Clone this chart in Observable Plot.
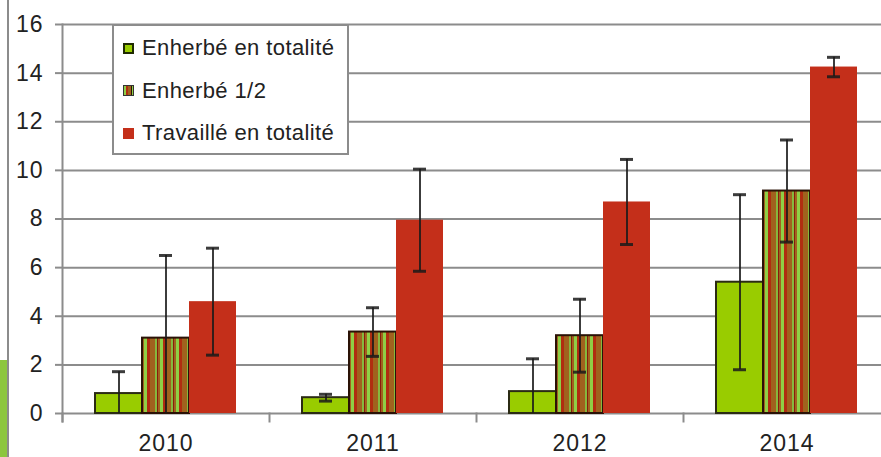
<!DOCTYPE html>
<html>
<head>
<meta charset="utf-8">
<script src="https://cdn.jsdelivr.net/npm/d3@7"></script>
<script src="https://cdn.jsdelivr.net/npm/@observablehq/plot@0.6"></script>
<style>
  body { margin: 0; background: #fff; }
  #wrap { position: relative; width: 881px; height: 457px; overflow: hidden; font-family: "Liberation Sans", Arial, sans-serif; }
  #chart svg { max-width: none !important; }
  #chart svg text { letter-spacing: 1px; }
  #deco-line { position: absolute; left: 7px; top: 0; width: 2px; height: 457px; background: #8c8c8c; }
  #deco-green { position: absolute; left: 0; top: 360px; width: 7px; height: 97px; background: #8dc63f; }
  #legend { position: absolute; left: 112px; top: 24px; width: 233px; height: 127px; border: 2px solid #8c8c8c; background: #fff; }
  .item { position: absolute; left: 9px; height: 26px; display: flex; align-items: center; font-size: 22px; letter-spacing: 0.4px; color: #222; white-space: nowrap; }
  .sw { width: 11px; height: 11px; margin-right: 8px; box-sizing: border-box; }
</style>
</head>
<body>
<div id="wrap">
  <div id="deco-line"></div>
  <div id="deco-green"></div>
  <div id="chart"></div>
  <div id="legend"></div>
</div>
<script>
const years = ["2010", "2011", "2012", "2014"];
const series = ["Enherbé en totalité", "Enherbé 1/2", "Travaillé en totalité"];
const enherbeTotal = [0.82, 0.65, 0.9, 5.4];
const enherbeDemi = [3.1, 3.35, 3.2, 9.15];
const travailleTotal = [4.6, 7.95, 8.7, 14.25];
const errEnherbeTotal = [0.9, 0.14, 1.35, 3.6];
const errEnherbeDemi = [3.4, 1.0, 1.5, 2.1];
const errTravailleTotal = [2.2, 2.1, 1.75, 0.4];
const yTicks = [0, 2, 4, 6, 8, 10, 12, 14, 16];

const fills = ["#99cc00", "url(#stripes)", "#c42f1a"];
const outlines = ["#2b2b14", "#2a1206", "none"];
const legendSwatches = [
  "background:#99cc00;border:2px solid #1f2a00;",
  "background:repeating-linear-gradient(90deg,#8fcf45 0 2px,#b02d10 2px 4px,#a0621e 4px 7px,#2a1206 7px 8px);border:1px solid #333;",
  "background:#c42f1a;"
];

const values = [enherbeTotal, enherbeDemi, travailleTotal];
const errors = [errEnherbeTotal, errEnherbeDemi, errTravailleTotal];
const rows = [];
years.forEach((yr, i) => {
  series.forEach((s, j) => {
    const v = values[j][i], e = errors[j][i];
    rows.push({year: yr, series: s, value: v, lo: v - e, hi: v + e});
  });
});

const barMarks = series.map((s, j) =>
  Plot.barY(rows.filter(r => r.series === s), {
    fx: "year", x: "series", y: "value",
    fill: fills[j], stroke: outlines[j], strokeWidth: 2, insetLeft: 0, insetRight: 0
  })
);

const chart = Plot.plot({
  width: 890,
  height: 457,
  marginLeft: 62,
  marginRight: 0,
  marginTop: 24,
  marginBottom: 44,
  fx: {domain: years, padding: 0, label: null, axis: null},
  x: {domain: series, paddingInner: 0, paddingOuter: 0.7, axis: null},
  y: {domain: [0, 16], label: null},
  style: {fontFamily: "'Liberation Sans', Arial, sans-serif", fontSize: "23px", color: "#222", background: "transparent", overflow: "visible", maxWidth: "none"},
  marks: [
    Plot.gridY(yTicks, {stroke: "#8c8c8c", strokeOpacity: 1, strokeWidth: 2}),
    Plot.axisY(yTicks, {tickSize: 7, tickPadding: 12, stroke: "#8c8c8c", strokeWidth: 2, fontSize: 23, fill: "#222", label: null}),
    Plot.axisFx({anchor: "bottom", tickSize: 0, tickPadding: 21, fontSize: 23, fill: "#222", label: null}),
    Plot.frame({anchor: "left", stroke: "#8c8c8c", strokeWidth: 2, insetTop: 389, insetBottom: -8}),
    Plot.frame({anchor: "left", facetAnchor: "left", stroke: "#8c8c8c", strokeWidth: 2, insetBottom: -8}),
    ...barMarks,
    Plot.ruleX(rows, {fx: "year", x: "series", y1: "lo", y2: "hi", stroke: "#1a1a1a", strokeOpacity: 0.85, strokeWidth: 2, clip: true}),
    Plot.tickY(rows, {fx: "year", x: "series", y: "hi", stroke: "#1a1a1a", strokeOpacity: 0.85, strokeWidth: 3, insetLeft: 17, insetRight: 17, clip: true}),
    Plot.tickY(rows, {fx: "year", x: "series", y: "lo", stroke: "#1a1a1a", strokeOpacity: 0.85, strokeWidth: 3, insetLeft: 17, insetRight: 17, clip: true})
  ]
});

d3.select(chart).insert("defs", ":first-child").html(`
  <pattern id="stripes" patternUnits="userSpaceOnUse" width="16" height="10">
    <rect x="0" y="0" width="16" height="10" fill="#a0621e"/>
    <rect x="0" y="0" width="3" height="10" fill="#8fcf45"/>
    <rect x="3" y="0" width="3" height="10" fill="#b02d10"/>
    <rect x="11" y="0" width="2" height="10" fill="#86b83e"/>
    <rect x="13" y="0" width="1" height="10" fill="#8a1c0c"/>
  </pattern>`);

document.getElementById("chart").appendChild(chart);

const legend = document.getElementById("legend");
series.forEach((s, j) => {
  const item = document.createElement("div");
  item.className = "item";
  item.style.top = (9 + j * 42.5) + "px";
  item.innerHTML = `<div class="sw" style="${legendSwatches[j]}"></div><span>${s}</span>`;
  legend.appendChild(item);
});
</script>
</body>
</html>
